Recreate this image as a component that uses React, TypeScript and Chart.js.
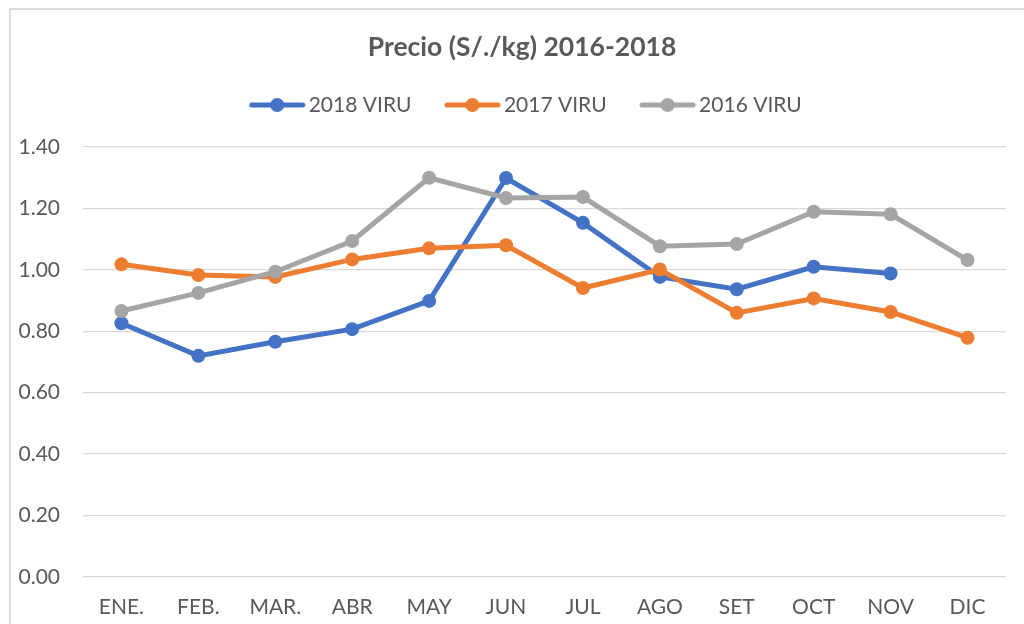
import React, { useEffect, useRef } from "react";
import { Chart, registerables } from "chart.js";

Chart.register(...registerables);

const months = ["ENE.", "FEB.", "MAR.", "ABR", "MAY", "JUN", "JUL", "AGO", "SET", "OCT", "NOV", "DIC"];
const viru2018: (number | null)[] = [0.826, 0.72, 0.766, 0.807, 0.899, 1.299, 1.153, 0.977, 0.937, 1.01, 0.988, null];
const viru2017 = [1.018, 0.983, 0.977, 1.034, 1.07, 1.08, 0.941, 1.001, 0.86, 0.907, 0.863, 0.779];
const viru2016 = [0.866, 0.925, 0.994, 1.094, 1.3, 1.234, 1.237, 1.077, 1.084, 1.189, 1.181, 1.032];
const seriesNames = ["2018 VIRU", "2017 VIRU", "2016 VIRU"];
const seriesColors = ["#4472C4", "#ED7D31", "#A5A5A5"];
const titleText = "Precio (S/./kg) 2016-2018";

const TEXT = "#595959";
const FONT = "Lato, 'Open Sans', sans-serif";

function makeMarker(color: string): HTMLCanvasElement {
  const c = document.createElement("canvas");
  c.width = 57;
  c.height = 16;
  const ctx = c.getContext("2d")!;
  ctx.strokeStyle = color;
  ctx.lineWidth = 5;
  ctx.lineCap = "round";
  ctx.beginPath();
  ctx.moveTo(3, 8);
  ctx.lineTo(54, 8);
  ctx.stroke();
  ctx.fillStyle = color;
  ctx.beginPath();
  ctx.arc(28.5, 8, 7, 0, Math.PI * 2);
  ctx.fill();
  return c;
}

export default function App() {
  const ref = useRef<HTMLCanvasElement>(null);

  useEffect(() => {
    if (!ref.current) return;
    const markers = seriesColors.map(makeMarker);
    const legendExtra = {
      id: "legendExtra",
      beforeInit(chart: any) {
        const lg = chart.legend;
        if (!lg) return;
        const orig = lg.fit;
        lg.fit = function () {
          orig.call(lg);
          lg.height += 21.5;
        };
      },
      afterLayout(chart: any) {
        const tb = chart.titleBlock;
        if (tb) tb.right += 38;
        const lg = chart.legend;
        if (lg) {
          lg.left += 7;
          lg.right += 45;
        }
      },
    };
    const allData = [viru2018, viru2017, viru2016];
    const chart = new Chart(ref.current, {
      type: "line",
      data: {
        labels: months,
        datasets: allData.map((d, i) => ({
          label: seriesNames[i],
          data: d,
          borderColor: seriesColors[i],
          backgroundColor: seriesColors[i],
          pointBackgroundColor: seriesColors[i],
          pointBorderColor: seriesColors[i],
          borderWidth: 5,
          pointRadius: 7,
          pointBorderWidth: 0,
          tension: 0,
          order: 3 - i,
        })),
      },
      options: {
        responsive: false,
        animation: false,
        layout: { padding: { left: 0, right: 38, top: 0, bottom: 0 } },
        plugins: {
          title: {
            display: true,
            text: titleText,
            color: TEXT,
            font: { family: FONT, size: 26.5, weight: "bold", lineHeight: 15 / 26.5 },
            padding: { top: 39.5, bottom: 0 },
          },
          legend: {
            display: true,
            position: "top",
            labels: {
              color: TEXT,
              font: { family: FONT, size: 21 },
              usePointStyle: true,
              pointStyleWidth: 42,
              padding: 40,
              sort: (a: any, b: any) => a.datasetIndex - b.datasetIndex,
              generateLabels: (ch: any) => {
                const base = (Chart as any).defaults.plugins.legend.labels.generateLabels(ch);
                return base.map((l: any) => ({ ...l, pointStyle: markers[l.datasetIndex] }));
              },
            },
          },
          tooltip: { enabled: false },
        },
        scales: {
          x: {
            offset: true,
            grid: { display: false, drawTicks: false },
            border: { display: false },
            ticks: { color: TEXT, font: { family: FONT, size: 21 }, padding: 17.5, maxRotation: 0, autoSkip: false },
            afterFit: (s: any) => {
              s.height = 47;
            },
          },
          y: {
            min: 0,
            max: 1.4,
            grid: { color: "#d9d9d9", lineWidth: 1.3, drawTicks: false },
            border: { display: false },
            ticks: {
              stepSize: 0.2,
              color: TEXT,
              padding: 23,
              font: { family: FONT, size: 21 },
              callback: (v: any) => Number(v).toFixed(2),
            },
            afterFit: (s: any) => {
              s.width = 83;
            },
          },
        },
      } as any,
      plugins: [legendExtra],
    });
    return () => chart.destroy();
  }, []);

  return (
    <div style={{ position: "fixed", left: 0, top: 0, width: 1024, height: 624, overflow: "hidden", background: "#fff" }}>
      <div
        style={{
          position: "absolute",
          left: 9,
          top: 7.5,
          width: 1100,
          height: 700,
          borderLeft: "2px solid #dcdcdc",
          borderTop: "2px solid #dcdcdc",
        }}
      />
      <canvas ref={ref} width={1044} height={624} style={{ position: "absolute", left: 0, top: 0 }} />
    </div>
  );
}
